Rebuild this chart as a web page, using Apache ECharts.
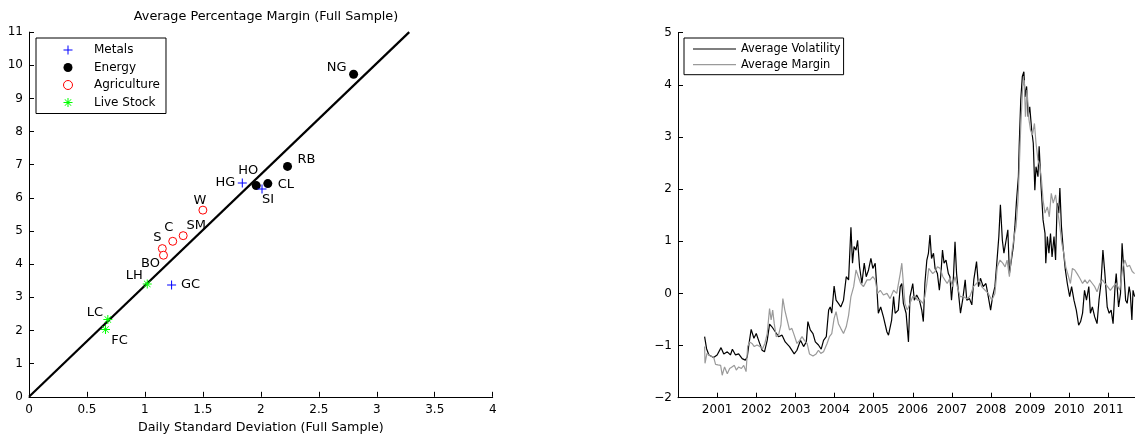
<!DOCTYPE html>
<html>
<head>
<meta charset="utf-8">
<script src="https://cdn.jsdelivr.net/npm/echarts@6/dist/echarts.min.js"></script>
<style>html,body{margin:0;padding:0;background:#fff;}#c{width:1135px;height:438px;}</style>
</head>
<body>
<div id="c"></div>
<script>
// ---------- Left panel data ----------
const metalsNames = ['HG', 'SI', 'GC'];
const metalsX = [1.84, 2.01, 1.23];
const metalsY = [6.45, 6.27, 3.37];

const energyNames = ['HO', 'CL', 'RB', 'NG'];
const energyX = [1.96, 2.06, 2.23, 2.80];
const energyY = [6.37, 6.43, 6.95, 9.73];

const agriNames = ['W', 'SM', 'C', 'S', 'BO'];
const agriX = [1.50, 1.33, 1.24, 1.15, 1.16];
const agriY = [5.63, 4.86, 4.69, 4.47, 4.27];

const liveNames = ['LH', 'LC', 'FC'];
const liveX = [1.02, 0.68, 0.66];
const liveY = [3.40, 2.33, 2.03];

const fitLineX = [0, 3.28];
const fitLineY = [0, 11];

const leftXTicks = [0, 0.5, 1, 1.5, 2, 2.5, 3, 3.5, 4];
const leftYTicks = [0, 1, 2, 3, 4, 5, 6, 7, 8, 9, 10, 11];

// ---------- Right panel data ----------
const yearTicks = [2001, 2002, 2003, 2004, 2005, 2006, 2007, 2008, 2009, 2010, 2011];

const volYears = [
 2000.68,2000.73,2000.79,2000.91,2001.00,2001.10,2001.17,2001.26,2001.34,2001.39,
 2001.47,2001.55,2001.64,2001.72,2001.77,2001.81,2001.87,2001.94,2002.00,2002.06,
 2002.15,2002.21,2002.28,2002.34,2002.40,2002.49,2002.57,2002.66,2002.74,2002.85,
 2002.97,2003.04,2003.13,2003.21,2003.28,2003.32,2003.38,2003.45,2003.51,2003.59,
 2003.66,2003.72,2003.79,2003.85,2003.89,2003.93,2003.99,2004.04,2004.10,2004.16,
 2004.23,2004.30,2004.36,2004.42,2004.46,2004.50,2004.55,2004.59,2004.64,2004.70,
 2004.76,2004.81,2004.87,2004.93,2004.98,2005.04,2005.08,2005.12,2005.18,2005.25,
 2005.34,2005.38,2005.46,2005.51,2005.55,2005.63,2005.68,2005.72,2005.76,2005.83,
 2005.89,2005.93,2006.00,2006.04,2006.10,2006.17,2006.23,2006.27,2006.31,2006.36,
 2006.40,2006.44,2006.48,2006.53,2006.57,2006.63,2006.68,2006.72,2006.76,2006.80,
 2006.85,2006.91,2006.95,2006.99,2007.04,2007.08,2007.12,2007.17,2007.22,2007.28,
 2007.34,2007.38,2007.45,2007.51,2007.56,2007.63,2007.68,2007.73,2007.80,2007.87,
 2007.93,2007.99,2008.04,2008.10,2008.16,2008.20,2008.24,2008.29,2008.33,2008.38,
 2008.43,2008.47,2008.52,2008.57,2008.61,2008.65,2008.70,2008.72,2008.76,2008.80,
 2008.84,2008.87,2008.91,2008.95,2008.99,2009.04,2009.08,2009.12,2009.15,2009.20,
 2009.23,2009.28,2009.33,2009.38,2009.40,2009.44,2009.48,2009.52,2009.56,2009.61,
 2009.65,2009.69,2009.73,2009.76,2009.80,2009.84,2009.90,2009.95,2010.01,2010.06,
 2010.12,2010.18,2010.24,2010.29,2010.34,2010.39,2010.44,2010.50,2010.54,2010.59,
 2010.65,2010.71,2010.76,2010.81,2010.86,2010.91,2010.97,2011.02,2011.07,2011.12,
 2011.17,2011.20,2011.26,2011.31,2011.35,2011.40,2011.44,2011.48,2011.53,2011.56,
 2011.60,2011.63,2011.67
];
const volValues = [
 -0.83,-1.06,-1.18,-1.23,-1.18,-1.04,-1.16,-1.12,-1.18,-1.07,
 -1.18,-1.16,-1.25,-1.28,-1.22,-0.99,-0.69,-0.86,-0.77,-0.90,
 -1.09,-1.12,-0.90,-0.59,-0.64,-0.74,-0.83,-0.80,-0.93,-1.02,
 -1.16,-1.09,-0.90,-1.02,-0.93,-0.54,-0.70,-0.77,-0.93,-0.99,
 -1.07,-0.90,-0.83,-0.32,-0.26,-0.38,0.14,-0.13,-0.19,-0.26,
 -0.13,0.32,0.26,1.27,0.58,0.90,0.83,1.02,0.51,0.19,
 0.58,0.32,0.45,0.67,0.48,0.58,0.13,-0.38,-0.26,-0.45,
 -0.74,-0.80,-0.51,-0.06,-0.38,-0.32,0.13,0.19,-0.19,-0.38,
 -0.93,-0.06,0.19,-0.13,-0.03,-0.13,-0.32,-0.54,0.19,0.64,
 0.77,1.12,0.67,0.77,0.48,0.38,0.06,0.38,0.83,0.58,
 0.64,0.38,0.32,-0.13,0.32,0.99,0.38,0.00,-0.38,-0.10,
 0.26,-0.13,-0.10,-0.22,0.26,0.61,0.13,0.29,0.13,0.19,
 -0.06,-0.32,-0.06,0.13,0.70,1.09,1.70,1.02,0.77,0.77,
 1.22,0.38,0.64,0.90,1.28,1.76,2.24,2.82,3.71,4.16,
 4.25,3.77,3.97,3.39,3.58,3.13,2.88,1.98,2.43,2.24,
 2.82,2.05,1.41,1.15,0.58,1.09,0.77,1.15,0.70,1.09,
 0.64,1.73,1.54,2.02,1.28,0.90,0.45,0.19,-0.06,0.13,
 -0.13,-0.32,-0.61,-0.54,-0.38,0.06,-0.13,0.13,-0.38,-0.26,
 -0.45,-0.58,-0.13,0.19,0.83,0.38,-0.26,-0.38,-0.32,-0.58,
 0.13,0.38,-0.26,0.00,0.96,0.38,-0.13,-0.19,0.13,0.00,
 -0.51,0.06,-0.06
];

const marYears = [
 2000.68,2000.69,2000.74,2000.83,2000.91,2000.96,2001.02,2001.09,2001.13,2001.19,
 2001.26,2001.32,2001.38,2001.44,2001.49,2001.55,2001.62,2001.68,2001.74,2001.78,
 2001.83,2001.89,2001.95,2002.02,2002.09,2002.16,2002.22,2002.28,2002.34,2002.38,
 2002.42,2002.46,2002.51,2002.57,2002.63,2002.68,2002.73,2002.79,2002.85,2002.91,
 2002.97,2003.04,2003.11,2003.17,2003.23,2003.30,2003.36,2003.45,2003.53,2003.59,
 2003.65,2003.72,2003.81,2003.87,2003.93,2003.99,2004.04,2004.10,2004.16,2004.23,
 2004.30,2004.36,2004.42,2004.49,2004.55,2004.61,2004.67,2004.74,2004.83,2004.91,
 2004.98,2005.04,2005.10,2005.17,2005.25,2005.34,2005.42,2005.51,2005.59,2005.68,
 2005.72,2005.76,2005.80,2005.86,2005.93,2006.00,2006.06,2006.12,2006.19,2006.26,
 2006.31,2006.36,2006.41,2006.46,2006.51,2006.57,2006.63,2006.70,2006.77,2006.82,
 2006.88,2006.95,2007.02,2007.08,2007.14,2007.21,2007.29,2007.38,2007.46,2007.55,
 2007.63,2007.70,2007.76,2007.85,2007.93,2008.02,2008.10,2008.16,2008.23,2008.30,
 2008.36,2008.41,2008.47,2008.53,2008.59,2008.64,2008.69,2008.72,2008.76,2008.81,
 2008.85,2008.88,2008.92,2008.97,2009.01,2009.06,2009.11,2009.15,2009.20,2009.25,
 2009.29,2009.33,2009.38,2009.44,2009.49,2009.54,2009.59,2009.65,2009.70,2009.76,
 2009.81,2009.86,2009.91,2009.96,2010.03,2010.08,2010.14,2010.20,2010.27,2010.34,
 2010.40,2010.46,2010.52,2010.59,2010.65,2010.71,2010.78,2010.85,2010.91,2010.98,
 2011.05,2011.12,2011.20,2011.29,2011.37,2011.42,2011.48,2011.54,2011.61,2011.67
];
const marValues = [
 -1.02,-1.34,-1.15,-1.20,-1.22,-1.36,-1.37,-1.38,-1.57,-1.41,
 -1.54,-1.44,-1.41,-1.38,-1.47,-1.41,-1.44,-1.38,-1.50,-1.02,
 -0.93,-0.96,-1.02,-0.99,-1.02,-1.06,-0.96,-0.77,-0.29,-0.51,
 -0.32,-0.58,-0.83,-0.80,-0.61,-0.10,-0.32,-0.51,-0.70,-0.67,
 -0.80,-0.96,-0.90,-0.83,-0.90,-0.96,-1.16,-1.20,-1.16,-1.09,
 -1.15,-1.12,-0.96,-0.83,-0.77,-0.48,-0.35,-0.58,-0.67,-0.77,
 -0.64,-0.42,-0.06,0.13,0.45,0.32,0.19,0.13,0.26,0.26,
 0.32,0.26,0.00,0.06,-0.03,0.00,-0.10,0.06,0.00,0.38,
 0.58,0.19,-0.19,-0.32,-0.19,-0.06,-0.06,-0.13,-0.13,-0.19,
 -0.06,0.19,0.48,0.51,0.38,0.42,0.51,0.48,0.32,0.26,
 0.19,0.29,0.13,0.32,0.13,-0.06,-0.06,-0.10,-0.06,0.13,
 0.19,0.26,0.13,0.06,0.00,-0.13,0.00,0.51,0.64,0.58,
 0.51,0.64,0.32,0.77,1.09,1.28,1.79,2.37,3.20,3.97,
 4.09,3.39,3.90,3.33,3.13,3.04,3.26,2.88,2.56,2.43,
 2.18,1.79,1.54,1.66,1.47,1.92,1.73,1.89,1.60,1.28,
 0.96,0.77,0.51,0.38,0.19,0.48,0.45,0.38,0.29,0.19,
 0.26,0.19,0.26,0.19,0.13,0.03,0.19,0.26,0.19,0.13,
 0.06,0.13,0.19,0.06,0.51,0.64,0.51,0.54,0.42,0.38
];

if (volYears.length !== volValues.length) throw new Error('vol mismatch ' + volYears.length + ' ' + volValues.length);
if (marYears.length !== marValues.length) throw new Error('mar mismatch ' + marYears.length + ' ' + marValues.length);

// ---------- Styles ----------
const FONT = 'DejaVu Sans';
const labelOffsets = {
  HG: [-17, 0], HO: [-8, -15], CL: [18, 1], SI: [6, 11], RB: [19, -7], NG: [-17, -7],
  W: [-3, -10], SM: [13, -10], C: [-4, -14], S: [-5, -11], BO: [-13, 8],
  LH: [-13, -8], GC: [19, 0], LC: [-13, -7], FC: [14, 11]
};
const plusPath = 'path://M4,0H5V4H9V5H5V9H4V5H0V4H4Z';
const starPath = 'path://M4,0H5V9H4Z M0,4H9V5H0Z M1.5,1L8,7.5L7.5,8L1,1.5Z M7.5,1L8,1.5L1.5,8L1,7.5Z';
const lineIcon = 'path://M0,0H43V1.2H0Z';

function pts(names, xs, ys) {
  return names.map((n, i) => ({
    name: n,
    value: [xs[i], ys[i]],
    label: { offset: labelOffsets[n] }
  }));
}
function zip(xs, ys) { return xs.map((x, i) => [x, ys[i]]); }

const ptLabel = { show: true, position: 'inside', formatter: '{b}', color: '#000', fontFamily: FONT, fontSize: 13 };
const axisText = { color: '#000', fontFamily: FONT, fontSize: 12 };
const minusFmt = v => String(v).replace('-', '\u2212');

const chart = echarts.init(document.getElementById('c'), null, { renderer: 'canvas' });
chart.setOption({
  animation: false,
  backgroundColor: '#fff',
  title: {
    text: 'Average Percentage Margin (Full Sample)',
    left: 261, top: 5, textAlign: 'center',
    textStyle: { color: '#000', fontFamily: FONT, fontSize: 12.8, fontWeight: 'normal' }
  },
  legend: [
    {
      data: [
        'Metals', 'Energy',
        { name: 'Agriculture', itemStyle: { color: '#ffffff', borderColor: '#ff0000', borderWidth: 1 } },
        'Live Stock'
      ],
      orient: 'vertical', left: 36, top: 38,
      padding: [5, 6, 4, 27], itemGap: 3.5,
      itemWidth: 42, itemHeight: 9,
      borderColor: '#000', borderWidth: 1, backgroundColor: '#fff',
      textStyle: { color: '#000', fontFamily: FONT, fontSize: 12, lineHeight: 14 },
      selectedMode: false
    },
    {
      data: [
        { name: 'Average Volatility', icon: lineIcon, itemStyle: { color: '#000' } },
        { name: 'Average Margin', icon: lineIcon, itemStyle: { color: '#9a9a9a' } }
      ],
      orient: 'vertical', left: 684, top: 38,
      padding: [4, 3, 3, 9], itemGap: 1.7,
      itemWidth: 43, itemHeight: 10,
      borderColor: '#000', borderWidth: 1, backgroundColor: '#fff',
      textStyle: { color: '#000', fontFamily: FONT, fontSize: 11.4, lineHeight: 14 },
      selectedMode: false
    }
  ],
  grid: [
    { left: 29, top: 32.1, width: 463.7, height: 364.7, outerBoundsMode: 'none', containLabel: false },
    { left: 678, top: 32.7, width: 457, height: 365, outerBoundsMode: 'none', containLabel: false }
  ],
  xAxis: [
    {
      gridIndex: 0, type: 'value', min: leftXTicks[0], max: leftXTicks[leftXTicks.length - 1], interval: 0.5,
      name: 'Daily Standard Deviation (Full Sample)', nameLocation: 'middle', nameGap: 18,
      nameTextStyle: { ...axisText, fontSize: 12.7 },
      axisLine: { show: true, onZero: false, lineStyle: { color: '#000', width: 1 } },
      axisTick: { show: true, inside: true, length: 5, lineStyle: { color: '#000' } },
      axisLabel: { ...axisText, margin: 7 },
      splitLine: { show: false }
    },
    {
      gridIndex: 1, type: 'value', min: 2000, max: 2011.68,
      axisLine: { show: true, onZero: false, lineStyle: { color: '#000', width: 1 } },
      axisTick: { show: true, inside: true, length: 5, customValues: yearTicks, lineStyle: { color: '#000' } },
      axisLabel: { ...axisText, margin: 6, customValues: yearTicks, formatter: v => String(v) },
      splitLine: { show: false }
    }
  ],
  yAxis: [
    {
      gridIndex: 0, type: 'value', min: leftYTicks[0], max: leftYTicks[leftYTicks.length - 1], interval: 1,
      axisLine: { show: true, onZero: false, lineStyle: { color: '#000', width: 1 } },
      axisTick: { show: true, inside: true, length: 5, lineStyle: { color: '#000' } },
      axisLabel: { ...axisText, margin: 6 },
      splitLine: { show: false }
    },
    {
      gridIndex: 1, type: 'value', min: -2, max: 5, interval: 1,
      axisLine: { show: true, onZero: false, lineStyle: { color: '#000', width: 1 } },
      axisTick: { show: true, inside: true, length: 5, lineStyle: { color: '#000' } },
      axisLabel: { ...axisText, margin: 6, formatter: minusFmt },
      splitLine: { show: false }
    }
  ],
  series: [
    {
      name: 'fit', type: 'line', xAxisIndex: 0, yAxisIndex: 0,
      data: zip(fitLineX, fitLineY), showSymbol: false, symbol: 'none', silent: true,
      lineStyle: { color: '#000', width: 2.2 }, z: 1
    },
    {
      name: 'Metals', type: 'scatter', xAxisIndex: 0, yAxisIndex: 0,
      symbol: plusPath, symbolSize: 9,
      itemStyle: { color: '#0000ff', opacity: 1 },
      label: ptLabel, data: pts(metalsNames, metalsX, metalsY), z: 3
    },
    {
      name: 'Energy', type: 'scatter', xAxisIndex: 0, yAxisIndex: 0,
      symbol: 'circle', symbolSize: 9,
      itemStyle: { color: '#000', opacity: 1 },
      label: ptLabel, data: pts(energyNames, energyX, energyY), z: 2
    },
    {
      name: 'Agriculture', type: 'scatter', xAxisIndex: 0, yAxisIndex: 0,
      symbol: 'circle', symbolSize: 8,
      itemStyle: { color: '#ffffff', borderColor: '#ff0000', borderWidth: 1, opacity: 1 },
      label: ptLabel, data: pts(agriNames, agriX, agriY), z: 3
    },
    {
      name: 'Live Stock', type: 'scatter', xAxisIndex: 0, yAxisIndex: 0,
      symbol: starPath, symbolSize: 9,
      itemStyle: { color: '#00ff00', opacity: 1 },
      label: ptLabel, data: pts(liveNames, liveX, liveY), z: 3
    },
    {
      name: 'Average Volatility', type: 'line', xAxisIndex: 1, yAxisIndex: 1,
      data: zip(volYears, volValues), showSymbol: false, symbol: 'none',
      lineStyle: { color: '#000', width: 1.2 }, itemStyle: { color: '#000' }
    },
    {
      name: 'Average Margin', type: 'line', xAxisIndex: 1, yAxisIndex: 1,
      data: zip(marYears, marValues), showSymbol: false, symbol: 'none',
      lineStyle: { color: '#9a9a9a', width: 1.2 }, itemStyle: { color: '#9a9a9a' }
    }
  ]
});
</script>
</body>
</html>
